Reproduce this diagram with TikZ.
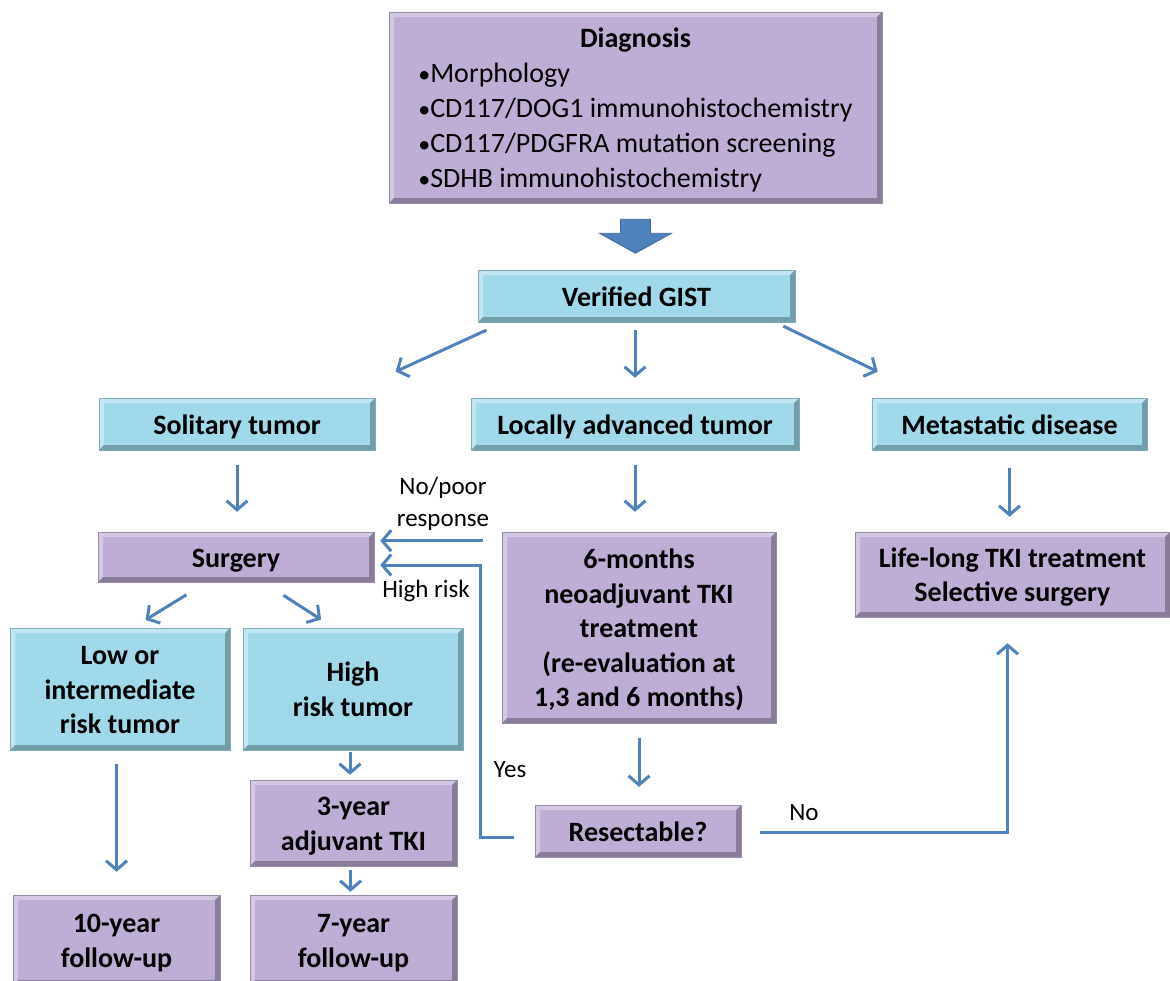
\documentclass[tikz,border=0pt]{standalone}
\usepackage{fontspec}
\setmainfont{Carlito}
\usetikzlibrary{arrows.meta, positioning, calc}
\definecolor{cCyan}{HTML}{A0DAEA}
\definecolor{cLilac}{HTML}{BEADD4}
\definecolor{cArrow}{HTML}{4F81BD}
\newcommand{\itm}{{\fontsize{24}{24}\selectfont•}}
\tikzset{
  bevel/.style={path picture={
    \fill[white, opacity=.35] (path picture bounding box.south west)
      -- (path picture bounding box.north west) -- (path picture bounding box.north east)
      -- ([shift={(-5pt,-5pt)}]path picture bounding box.north east)
      -- ([shift={(5pt,-5pt)}]path picture bounding box.north west)
      -- ([shift={(5pt,5pt)}]path picture bounding box.south west) -- cycle;
    \fill[black, opacity=.28] (path picture bounding box.south west)
      -- (path picture bounding box.south east) -- (path picture bounding box.north east)
      -- ([shift={(-5pt,-5pt)}]path picture bounding box.north east)
      -- ([shift={(-5pt,5pt)}]path picture bounding box.south east)
      -- ([shift={(5pt,5pt)}]path picture bounding box.south west) -- cycle;
  }},
  nlines/.style={text height={29pt+(#1-1)*34.5pt}, text depth=9pt},
}

\begin{document}
\begin{tikzpicture}[
    x=1pt, y=-1pt,
    every node/.style={font=\fontsize{28}{35}\selectfont},
    box/.style={rectangle, inner sep=0pt, align=center, fill=#1,
                draw=#1!80!black, line width=0.5pt, bevel, nlines=1,
                font=\fontsize{28}{34.5}\selectfont\bfseries},
    lbl/.style={inner sep=0pt, align=center, font=\fontsize{25}{32}\selectfont},
    arr/.style={-{Straight Barb[length=9pt, width=21pt]}, line width=3pt, draw=cArrow},
  ]
  \useasboundingbox (0,0) rectangle (1170,980);

  % Diagnosis
  \node[box=cLilac, minimum width=493pt, minimum height=191pt, text height=64pt, text depth=114pt,
        font=\fontsize{28}{35}\selectfont\bfseries] (diag) at (635.5,107.5)
    {Diagnosis\\ \mdseries\begin{tabular}[t]{@{}l@{}}\itm Morphology\\
     \itm CD117/DOG1 immunohistochemistry\\\itm CD117/PDGFRA mutation screening\\
     \itm SDHB immunohistochemistry\end{tabular}};
  \fill[cArrow, draw=cArrow!80!black, line width=0.8pt]
    ([shift={(-15,16)}]diag.south) -- ++(30,0) -- ++(0,14) -- ++(21,0)
    -- ++(-36,20) -- ++(-36,-20) -- ++(21,0) -- cycle;

  \node[box=cCyan, minimum width=317pt, minimum height=52pt] (gist) at (636.5,296) {Verified GIST};

  % Three branches
  \node[box=cCyan, minimum width=276pt, minimum height=52pt] (sol) at (237,424) {Solitary tumor};
  \node[box=cCyan, minimum width=328pt, minimum height=52pt] (loc) at (635,424) {Locally advanced tumor};
  \node[box=cCyan, minimum width=275pt, minimum height=52pt] (met) at (1009.5,424) {Metastatic disease};

  \node[box=cLilac, minimum width=276pt, minimum height=50pt] (surg) at (236,557) {Surgery};
  \node[box=cLilac, nlines=5, minimum width=274pt, minimum height=191pt] (six) at (639,627.5)
    {6-months\\neoadjuvant TKI\\treatment\\(re-evaluation at\\1,3 and 6 months)};
  \node[box=cLilac, nlines=2, minimum width=315pt, minimum height=85pt] (life) at (1012.5,574.5)
    {Life-long TKI treatment\\Selective surgery};

  \node[box=cCyan, nlines=3, minimum width=220pt, minimum height=122pt] (low) at (120,689)
    {Low or\\intermediate\\risk tumor};
  \node[box=cCyan, nlines=2, minimum width=220pt, minimum height=122pt] (high) at (353,689)
    {High\\risk tumor};
  \node[box=cLilac, nlines=2, minimum width=207pt, minimum height=86pt] (three) at (353.5,823)
    {3-year\\adjuvant TKI};
  \node[box=cLilac, nlines=2, minimum width=207pt, minimum height=90pt] (ten) at (116.5,940)
    {10-year\\follow-up};
  \node[box=cLilac, nlines=2, minimum width=207pt, minimum height=90pt] (seven) at (353.5,940)
    {7-year\\follow-up};
  \node[box=cLilac, minimum width=206pt, minimum height=52pt] (res) at (638,831) {Resectable?};

  % Labels
  \node[lbl] (lpoor) at (443,504) {No/poor\\response};
  \node[lbl] (lhigh) at (426,591) {High risk};
  \node[lbl] (lyes)  at (510,770) {Yes};
  \node[lbl] (lno)   at (804,813) {No};

  % Connectors
  \draw[arr, shorten <=19pt, shorten >=63pt] ([xshift=26pt]gist.south west) -- ([xshift=-37pt]sol.north east);
  \draw[arr, shorten <=8pt, shorten >=20pt] (gist.south -| loc.north) -- (loc.north);
  \draw[arr, shorten <=9pt, shorten >=60pt] ([xshift=-20pt]gist.south east) -- ([xshift=60pt]met.north west);
  \draw[arr, shorten <=15pt, shorten >=20pt] (sol.south) -- (sol.south |- surg.north);
  \draw[arr, shorten <=15pt, shorten >=20pt] (loc.south) -- (loc.south |- six.north);
  \draw[arr, shorten <=18pt, shorten >=15pt] (met.south) -- (met.south |- life.north);
  \draw[arr, shorten <=24pt, shorten >=15pt] ([xshift=109pt]surg.south west) -- ([xshift=123pt]low.north west);
  \draw[arr, shorten <=24pt, shorten >=15pt] ([xshift=-111pt]surg.south east) -- ([xshift=91pt]high.north west);
  \draw[arr, shorten <=14pt, shorten >=23pt] (low.south -| ten.north) -- (ten.north);
  \draw[arr, shorten <=2pt, shorten >=5pt] ([xshift=-3pt]high.south) -- ([xshift=-3pt]high.south |- three.north);
  \draw[arr, shorten <=4pt, shorten >=3pt] ([xshift=-3pt]three.south) -- ([xshift=-3pt]three.south |- seven.north);
  \draw[arr, shorten <=15pt, shorten >=18pt] (six.south) -- (six.south |- res.north);
  \draw[arr, shorten <=19pt, shorten >=6pt] ([yshift=-9pt]six.north west) -- ([yshift=-9pt]six.north west -| surg.east);
  \coordinate (yesbend) at (480,565);
  \draw[arr, shorten <=21pt, shorten >=6pt] ([yshift=-6pt]res.west) -| (yesbend) -- (yesbend -| surg.east);
  \draw[arr, shorten <=19pt, shorten >=26pt] ([yshift=-1pt]res.east) -| ([xshift=-5pt]life.south);
\end{tikzpicture}
\end{document}
